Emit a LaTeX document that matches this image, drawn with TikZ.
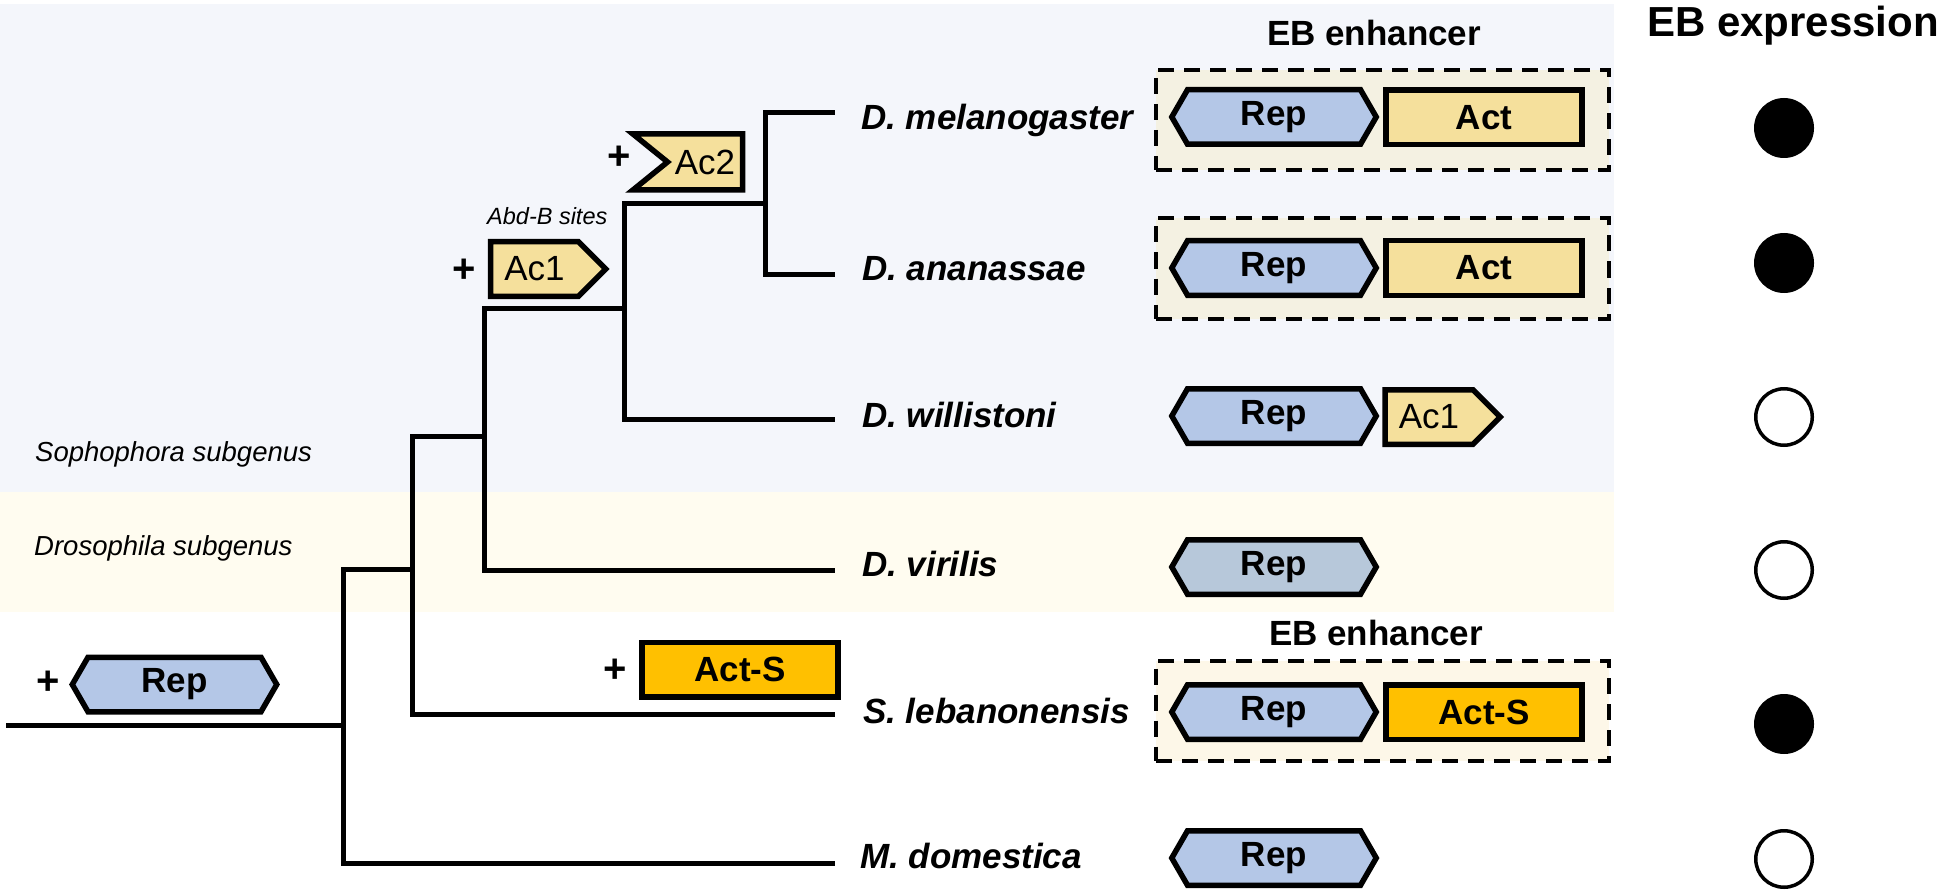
\documentclass[tikz,border=0pt]{standalone}
\usepackage{fontspec}
\setmainfont{Liberation Sans}
\usepackage{tikz}
\usetikzlibrary{shapes.symbols}

\definecolor{sophoband}{HTML}{F4F6FB}
\definecolor{drosoband}{HTML}{FFFCF0}
\definecolor{repblue}{HTML}{B4C7E7}
\definecolor{repgrey}{HTML}{B7C8DA}
\definecolor{actyellow}{HTML}{F5E09C}
\definecolor{actorange}{HTML}{FFC000}
\definecolor{enhfill}{HTML}{F4F1E2}
\definecolor{enhfilltwo}{HTML}{FDF7E8}

\newcommand{\sz}[1]{\fontsize{#1pt}{#1pt}\selectfont}

\begin{document}
\begin{tikzpicture}[x=1pt,y=-1pt,
    branch/.style={line width=5pt},
    box/.style={draw,line width=5.5pt,inner xsep=0pt,inner ysep=0pt,minimum height=54.5pt,align=center},
    rep/.style={box,signal,signal to=east and west,signal pointer angle=120,fill=repblue,text width=173pt,font=\sz{35}\bfseries},
    act/.style={box,rectangle,fill=actyellow,minimum width=196pt,font=\sz{35}\bfseries},
    acone/.style={box,signal,signal to=east,signal pointer angle=90,fill=actyellow,text width=88pt,font=\sz{35}},
    actwo/.style={box,signal,signal to=nowhere,signal from=west,signal pointer angle=78,fill=actyellow,text width=75pt,minimum height=56pt,font=\sz{35}},
    gain/.style={inner sep=0pt,font=\sz{40}\bfseries},
    species/.style={anchor=base west,inner sep=0pt,font=\sz{35}\bfseries\itshape},
    enh/.style={draw,line width=4pt,dash pattern=on 16pt off 10pt,minimum width=453pt,minimum height=100pt},
    title/.style={inner sep=0pt,font=\sz{35}\bfseries},
    full/.style={circle,fill=black,minimum size=60pt,inner sep=0pt},
    empty/.style={circle,draw,fill=white,line width=3.5pt,minimum size=56.5pt,inner sep=0pt}]
    \useasboundingbox (0,0) rectangle (1950,893);
    % subgenus bands
    \fill[sophoband] (0,4) rectangle (1614,492);
    \fill[drosoband] (0,492) rectangle (1614,612);
    \node[anchor=base west,inner sep=0pt,font=\sz{27.5}\itshape] (sopho) at (35,461) {Sophophora subgenus};
    \node[anchor=base west,inner sep=0pt,font=\sz{27.5}\itshape] (droso) at (34,555) {Drosophila subgenus};
    % tree
    \coordinate (r0) at (6,725);
    \coordinate (n1) at (343,725);
    \coordinate (n2) at (412,569);
    \coordinate (n3) at (484,436);
    \coordinate (n4) at (624,308);
    \coordinate (n5) at (765,204);
    \coordinate (mel) at (835,113);
    \coordinate (ana) at (835,274);
    \coordinate (wil) at (835,419);
    \coordinate (vir) at (835,570);
    \coordinate (leb) at (835,714);
    \coordinate (dom) at (835,863);
    \draw[branch] (r0) -- (n1);
    \draw[branch] (n1) |- (n2);
    \draw[branch] (n1) |- (dom);
    \draw[branch] (n2) |- (n3);
    \draw[branch] (n2) |- (leb);
    \draw[branch] (n3) |- (n4);
    \draw[branch] (n3) |- (vir);
    \draw[branch] (n4) |- (n5);
    \draw[branch] (n4) |- (wil);
    \draw[branch] (n5) |- (mel);
    \draw[branch] (n5) |- (ana);
    % gains on the branches
    \node[gain] (plus0) at (48,683) {+};
    \node[rep] (rep0) at (174.5,684.5) {Rep};
    \node[gain] (plusS) at (615,671) {+};
    \node[act,fill=actorange] (actS) at (740,669.5) {Act-S};
    \node[gain] (plus1) at (464,271) {+};
    \node[acone] (ac1) at (534.5,269) {Ac1};
    \node[anchor=base west,inner sep=0pt,font=\sz{23.5}\itshape] (abdb) at (487,225) {Abd-B sites};
    \node[gain] (plus2) at (619,158) {+};
    \node[actwo] (ac2) at (705,162) {Ac2};
    % species
    \node[species] (melT) at (861,130) {D. melanogaster};
    \node[species] (anaT) at (862,280) {D. ananassae};
    \node[species] (wilT) at (862,427) {D. willistoni};
    \node[species] (virT) at (862,576) {D. virilis};
    \node[species] (lebT) at (863,723) {S. lebanonensis};
    \node[species] (domT) at (860,868) {M. domestica};
    % enhancers
    \node[enh,fill=enhfill] (enhMel) at (1382.5,120) {};
    \node[enh,fill=enhfill] (enhAna) at (1382.5,268.5) {};
    \node[enh,fill=enhfilltwo] (enhLeb) at (1382.5,710.5) {};
    \node[title] (ebTop) at (1374,33) {EB enhancer};
    \node[title] (ebLeb) at (1376,633) {EB enhancer};
    \node[rep] (repMel) at (1274,117) {Rep};
    \node[act] (actMel) at (1484,117.5) {Act};
    \node[rep] (repAna) at (1274,268) {Rep};
    \node[act] (actAna) at (1484,268) {Act};
    \node[rep] (repWil) at (1274,416) {Rep};
    \node[acone] (acWil) at (1429,417) {Ac1};
    \node[rep,fill=repgrey] (repVir) at (1274,567) {Rep};
    \node[rep] (repLeb) at (1274,712) {Rep};
    \node[act,fill=actorange] (actLeb) at (1484,712) {Act-S};
    \node[rep] (repDom) at (1274,858) {Rep};
    % expression
    \node[anchor=base west,inner sep=0pt,font=\sz{42}\bfseries] (ebExp) at (1647,37) {EB expression};
    \node[full] (expMel) at (1784,128) {};
    \node[full] (expAna) at (1784,263) {};
    \node[empty] (expWil) at (1784,417) {};
    \node[empty] (expVir) at (1784,570) {};
    \node[full] (expLeb) at (1784,724) {};
    \node[empty] (expDom) at (1784,859) {};
\end{tikzpicture}
\end{document}
